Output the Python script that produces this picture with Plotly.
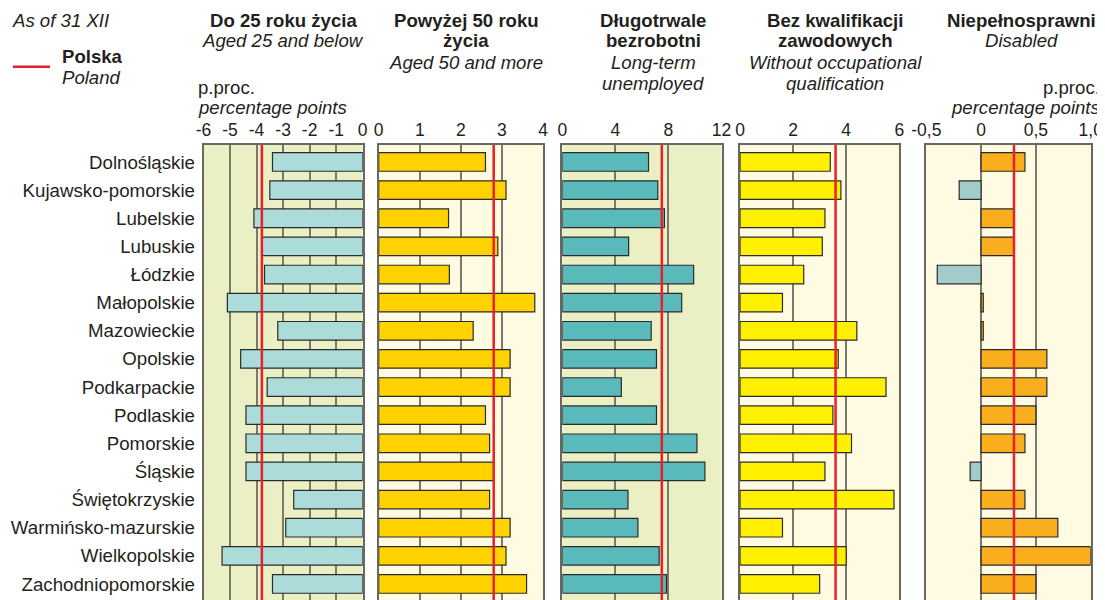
import plotly.graph_objects as go

# page is rendered with an 8px body margin: work in reference-page pixels and shift
OFF = 8
FW, FH = 1105 - OFF, 600 - OFF

regions = ["Dolnośląskie", "Kujawsko-pomorskie", "Lubelskie", "Lubuskie", "Łódzkie",
           "Małopolskie", "Mazowieckie", "Opolskie", "Podkarpackie", "Podlaskie",
           "Pomorskie", "Śląskie", "Świętokrzyskie", "Warmińsko-mazurskie",
           "Wielkopolskie", "Zachodniopomorskie"]

aged_25_below = [-3.4, -3.5, -4.1, -3.8, -3.7, -5.1, -3.2, -4.6,
                 -3.6, -4.4, -4.4, -4.4, -2.6, -2.9, -5.3, -3.4]
aged_50_more = [2.6, 3.1, 1.7, 2.9, 1.72, 3.8, 2.3, 3.2,
                3.2, 2.6, 2.7, 2.8, 2.7, 3.2, 3.1, 3.6]
long_term = [6.5, 7.2, 7.7, 5.0, 9.9, 9.0, 6.7, 7.1,
             4.45, 7.1, 10.15, 10.75, 4.95, 5.7, 7.3, 7.85]
no_qualification = [3.4, 3.8, 3.2, 3.1, 2.4, 1.6, 4.4, 3.7,
                    5.5, 3.5, 4.2, 3.2, 5.8, 1.6, 4.0, 3.0]
disabled = [0.4, -0.2, 0.3, 0.3, -0.4, 0.02, 0.02, 0.6,
            0.6, 0.5, 0.4, -0.1, 0.4, 0.7, 1.0, 0.5]

poland = [-3.8, 2.8, 7.5, 3.6, 0.3]

titles_bold = [["Do 25 roku życia"], ["Powyżej 50 roku", "życia"], ["Długotrwale", "bezrobotni"],
               ["Bez kwalifikacji", "zawodowych"], ["Niepełnosprawni"]]
titles_it = [["Aged 25 and below"], ["Aged 50 and more"], ["Long-term", "unemployed"],
             ["Without occupational", "qualification"], ["Disabled"]]

tick_vals = [[-6, -5, -4, -3, -2, -1, 0], [0, 1, 2, 3, 4], [0, 4, 8, 12], [0, 2, 4, 6], [-0.5, 0, 0.5, 1.0]]
tick_text = [["-6", "-5", "-4", "-3", "-2", "-1", "0"], ["0", "1", "2", "3", "4"], ["0", "4", "8", "12"],
             ["0", "2", "4", "6"], ["-0,5", "0", "0,5", "1,0"]]
x_ranges = [[-6, 0], [0, 4], [0, 12], [0, 6], [-0.5, 1.0]]

series = [aged_25_below, aged_50_more, long_term, no_qualification, disabled]

# layout / style (reference page pixels)
dom_px = [(203.5, 362.7), (378.7, 543.0), (562.3, 721.5), (740.0, 899.3), (926.3, 1090.7)]
title_cx = [283, 466, 653, 835, 1021]
bg_cols = ["#ebf0c4", "#fffbe2", "#ebf0c4", "#fffbe2", "#fffbe2"]
bar_cols = ["#abdcd9", "#ffd200", "#5ab9bb", "#fff000", None]
grid_col = "#7d786e"
txt_col = "#231f20"
FONT = "Liberation Sans, Arial, Helvetica, sans-serif"
y_top_px = 145
TSIZE = 18.6
LSTEP = 21.0


def px(x):
    return (x - OFF) / FW


def py(y):
    return 1 - (y - OFF) / FH


fig = go.Figure()
shapes = []
annotations = []

for i in range(5):
    n = "" if i == 0 else str(i + 1)
    vals = series[i]
    if bar_cols[i] is None:
        colors = ["#f9ae1d" if v >= 0 else "#a3cbca" for v in vals]
    else:
        colors = bar_cols[i]
    fig.add_trace(go.Bar(
        x=vals, y=regions, orientation="h",
        marker=dict(color=colors, line=dict(color="#2b2b2b", width=1.2)),
        xaxis="x" + n, yaxis="y" + n, showlegend=False,
        hoverinfo="x+y",
    ))
    d0, d1 = dom_px[i]
    fig.layout["xaxis" + n] = dict(
        domain=[px(d0), px(d1)], range=x_ranges[i], side="top",
        tickmode="array", tickvals=tick_vals[i], ticktext=tick_text[i],
        ticks="", showgrid=True, gridcolor=grid_col, gridwidth=1.5,
        zeroline=False, showline=True, mirror=True, linecolor="#6a675f", linewidth=1.5,
        tickfont=dict(size=17.5, color=txt_col, family=FONT),
        anchor="y" + n, fixedrange=True,
    )
    fig.layout["yaxis" + n] = dict(
        domain=[0, py(y_top_px)], type="category",
        categoryorder="array", categoryarray=regions,
        range=[15.57, -0.604], showgrid=False, zeroline=False,
        showline=True, mirror=True, linecolor="#6a675f", linewidth=1.5,
        showticklabels=(i == 0), ticks="", ticklabelstandoff=3,
        tickfont=dict(size=18.7, color=txt_col, family=FONT),
        anchor="x" + n, fixedrange=True,
    )
    shapes.append(dict(type="rect", xref="x" + n + " domain", yref="y" + n + " domain",
                       x0=0, x1=1, y0=0, y1=1, fillcolor=bg_cols[i],
                       line=dict(width=0), layer="below"))
    shapes.append(dict(type="line", xref="x" + n, yref="y" + n + " domain",
                       x0=poland[i], x1=poland[i], y0=0, y1=1,
                       line=dict(color="#e8202a", width=2.5), layer="above"))
    # titles
    yy = 20.0
    for t in titles_bold[i]:
        annotations.append(dict(text="<b>" + t + "</b>", x=px(title_cx[i]), y=py(yy),
                                xref="paper", yref="paper", xanchor="center", yanchor="middle",
                                showarrow=False, font=dict(size=TSIZE, color=txt_col, family=FONT)))
        yy += LSTEP
    for t in titles_it[i]:
        annotations.append(dict(text="<i>" + t + "</i>", x=px(title_cx[i]), y=py(yy),
                                xref="paper", yref="paper", xanchor="center", yanchor="middle",
                                showarrow=False, font=dict(size=TSIZE, color=txt_col, family=FONT)))
        yy += LSTEP


def txt(text, x, y, anchor="left", size=TSIZE, yanchor="middle"):
    annotations.append(dict(text=text, x=px(x), y=py(y), xref="paper", yref="paper",
                            xanchor=anchor, yanchor=yanchor, showarrow=False,
                            font=dict(size=size, color=txt_col, family=FONT)))


txt("<i>As of 31 XII</i>", 10, 8, yanchor="top")
txt("<b>Polska</b>", 60, 56)
txt("<i>Poland</i>", 60, 77)
txt("p.proc.", 196, 87)
txt("<i>percentage points</i>", 196, 108)
txt("p.proc.", 1102, 87, anchor="right")
txt("<i>percentage points</i>", 1102, 108, anchor="right")

shapes.append(dict(type="line", xref="paper", yref="paper", x0=px(13), x1=px(50),
                   y0=py(66.7), y1=py(66.7), line=dict(color="#e8202a", width=2.5)))

fig.update_layout(
    template="none",
    width=FW, height=FH,
    margin=dict(l=0, r=0, t=0, b=0),
    paper_bgcolor="white", plot_bgcolor="rgba(0,0,0,0)",
    bargap=0.34,
    shapes=shapes, annotations=annotations,
    font=dict(family=FONT, color=txt_col),
    showlegend=False,
)

fig.write_html(
    "out.html",
    post_script="document.documentElement.style.overflow='hidden';document.body.style.overflow='hidden';",
)
